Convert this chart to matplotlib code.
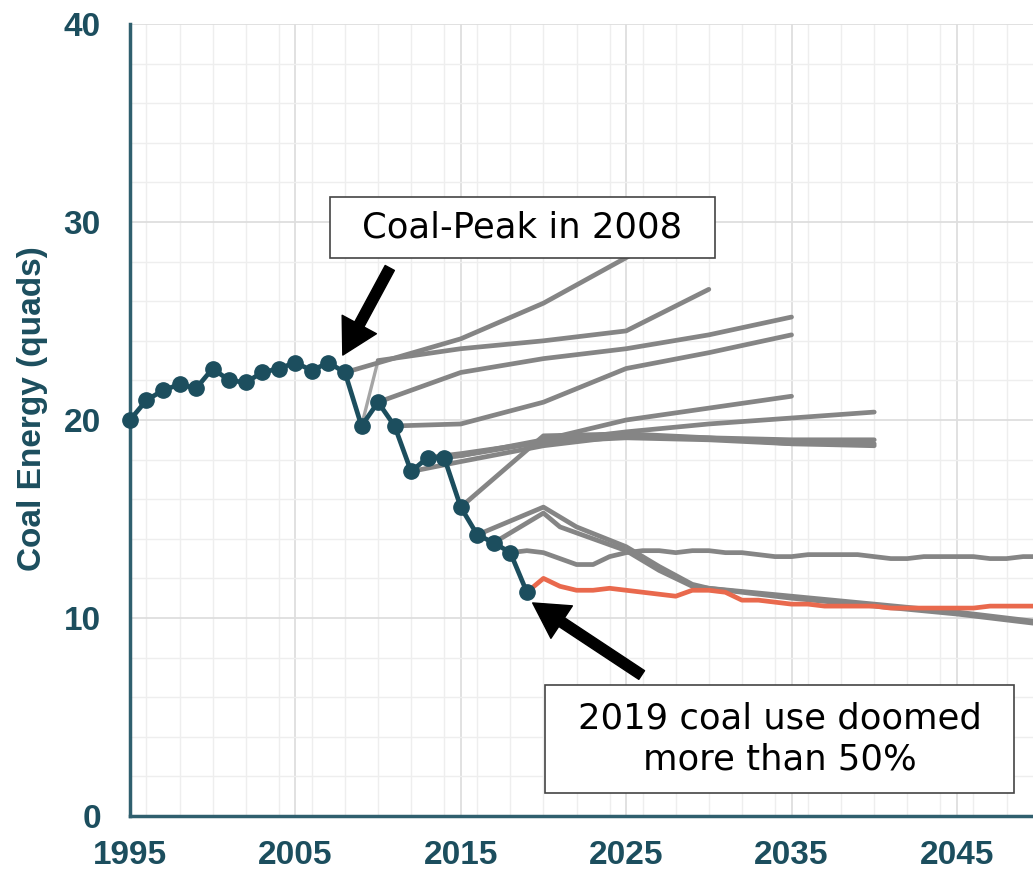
import matplotlib
matplotlib.use('Agg')
import matplotlib.pyplot as plt
from matplotlib.patches import Rectangle
from matplotlib.ticker import MultipleLocator

# historical coal consumption (quads)
hist_years = list(range(1995, 2020))
hist_vals = [20.0, 21.0, 21.5, 21.8, 21.6, 22.6, 22.0, 21.9, 22.4, 22.6,
             22.9, 22.5, 22.9, 22.4, 19.7, 20.9, 19.7, 17.4, 18.1, 18.1,
             15.6, 14.2, 13.8, 13.3, 11.3]

# older outlook projections (grey)
proj_a_years = [2008, 2015, 2020, 2025, 2030]
proj_a_vals = [22.4, 24.1, 25.9, 28.2, 30.5]
proj_b_years = [2010, 2015, 2020, 2025, 2030]
proj_b_vals = [23.0, 23.6, 24.0, 24.5, 26.6]
proj_v_years = [2009, 2010]
proj_v_vals = [19.7, 23.0]
proj_c_years = [2010, 2015, 2020, 2025, 2030, 2035]
proj_c_vals = [20.9, 22.4, 23.1, 23.6, 24.3, 25.2]
proj_d_years = [2011, 2015, 2020, 2025, 2030, 2035]
proj_d_vals = [19.7, 19.8, 20.9, 22.6, 23.4, 24.3]
proj_e_years = [2014, 2015, 2020, 2025, 2030, 2035]
proj_e_vals = [18.1, 18.2, 19.0, 20.0, 20.6, 21.2]
proj_f_years = [2013, 2015, 2020, 2025, 2030, 2035, 2040]
proj_f_vals = [18.1, 18.2, 18.9, 19.4, 19.8, 20.1, 20.4]
proj_g_years = [2012, 2015, 2020, 2025, 2030, 2035, 2040]
proj_g_vals = [17.4, 17.9, 18.7, 19.2, 19.1, 19.0, 19.0]
proj_h_years = [2013, 2015, 2020, 2025, 2030, 2035, 2040]
proj_h_vals = [18.1, 18.3, 18.9, 19.1, 19.0, 18.8, 18.7]
proj_s_years = [2015, 2020, 2025, 2030, 2035, 2040]
proj_s_vals = [15.6, 19.2, 19.3, 19.1, 18.8, 18.8]
proj_p1_years = [2016, 2020, 2022, 2025, 2027, 2029, 2030, 2032, 2035, 2040, 2045, 2050]
proj_p1_vals = [14.2, 15.6, 14.6, 13.6, 12.6, 11.7, 11.5, 11.3, 11.0, 10.6, 10.2, 9.7]
proj_p2_years = [2017, 2020, 2021, 2022, 2025, 2027, 2029, 2030, 2035, 2040, 2045, 2050]
proj_p2_vals = [13.8, 15.3, 14.6, 14.3, 13.4, 12.4, 11.6, 11.5, 11.1, 10.7, 10.3, 9.8]
proj_q_years = list(range(2018, 2051))
proj_q_vals = [13.3, 13.4, 13.3, 13.0, 12.7, 12.7, 13.1, 13.3, 13.4, 13.4, 13.3,
               13.4, 13.4, 13.3, 13.3, 13.2, 13.1, 13.1, 13.2, 13.2, 13.2, 13.2,
               13.1, 13.0, 13.0, 13.1, 13.1, 13.1, 13.1, 13.0, 13.0, 13.1, 13.1]

# latest outlook (red)
latest_years = list(range(2019, 2051))
latest_vals = [11.3, 12.0, 11.6, 11.4, 11.4, 11.5, 11.4, 11.3, 11.2, 11.1, 11.4,
               11.4, 11.3, 10.9, 10.9, 10.8, 10.7, 10.7, 10.6, 10.6, 10.6, 10.6,
               10.5, 10.5, 10.5, 10.5, 10.5, 10.5, 10.6, 10.6, 10.6, 10.6]

xticks = [1995, 2005, 2015, 2025, 2035, 2045]
yticks = [0, 10, 20, 30, 40]

teal = '#1c4e5e'
grey = '#858585'
red = '#e9694d'
narrow = ['Liberation Sans Narrow', 'Liberation Sans', 'DejaVu Sans']

fig = plt.figure(figsize=(10.33, 8.74), dpi=100)
ax = fig.add_axes([0.1258, 0.0664, 0.8742, 0.9061])

grey_lines = [
    (proj_a_years, proj_a_vals), (proj_b_years, proj_b_vals),
    (proj_c_years, proj_c_vals), (proj_d_years, proj_d_vals),
    (proj_e_years, proj_e_vals), (proj_f_years, proj_f_vals),
    (proj_g_years, proj_g_vals), (proj_h_years, proj_h_vals),
    (proj_s_years, proj_s_vals), (proj_p1_years, proj_p1_vals),
    (proj_p2_years, proj_p2_vals), (proj_q_years, proj_q_vals),
]
ax.plot(proj_v_years, proj_v_vals, color='#a5a5a5', lw=2.4, zorder=2)
for yrs, vals in grey_lines:
    ax.plot(yrs, vals, color=grey, lw=3.4, solid_capstyle='round', zorder=3)
ax.plot(latest_years, latest_vals, color=red, lw=3.4, zorder=4)
ax.plot(hist_years, hist_vals, color=teal, lw=3.4, marker='o', ms=11,
        zorder=5, clip_on=False)

ax.set_xlim(1995, 2049.6)
ax.set_ylim(0, 40)
ax.set_xticks(xticks)
ax.set_yticks(yticks)
ax.xaxis.set_minor_locator(MultipleLocator(2))
ax.yaxis.set_minor_locator(MultipleLocator(2))
ax.grid(True, which='major', color='#dedede', lw=1.3, zorder=0)
ax.grid(True, which='minor', color='#eeeeee', lw=1.0, zorder=0)
ax.set_axisbelow(True)

for s in ['top', 'right']:
    ax.spines[s].set_visible(False)
for s in ['left', 'bottom']:
    ax.spines[s].set_color('#2f5f6e')
    ax.spines[s].set_linewidth(2.5)

ax.tick_params(which='both', length=0)
ax.tick_params(axis='y', pad=21)
ax.tick_params(axis='x', pad=17)
for lab in ax.get_xticklabels() + ax.get_yticklabels():
    lab.set_fontfamily(narrow)
    lab.set_fontweight('bold')
    lab.set_fontsize(24)
    lab.set_color(teal)

fig.text(0.031, 0.533, 'Coal Energy (quads)', rotation=90, ha='center', va='center',
         fontsize=24, fontweight='bold', color=teal,
         family=['Liberation Sans', 'DejaVu Sans'])

# annotation boxes
ax.add_patch(Rectangle((2007.08, 28.18), 23.27, 3.08, facecolor='white',
                       edgecolor='#444444', lw=1.2, zorder=8))
ax.text(2018.7, 29.72, 'Coal-Peak in 2008', ha='center', va='center',
        fontsize=25.5, color='black', zorder=9, family='DejaVu Sans')
ax.add_patch(Rectangle((2020.08, 1.16), 28.39, 5.46, facecolor='white',
                       edgecolor='#444444', lw=1.2, zorder=8))
ax.text(2034.27, 3.9, '2019 coal use doomed\nmore than 50%', ha='center',
        va='center', fontsize=25.5, color='black', zorder=9,
        linespacing=1.25, family='DejaVu Sans')

arrow = dict(facecolor='black', edgecolor='black', width=7.5, headwidth=28,
             headlength=25, shrink=0)
ax.annotate('', xy=(2007.87, 23.28), xytext=(2010.71, 27.68),
            arrowprops=arrow, zorder=9)
ax.annotate('', xy=(2019.35, 10.76), xytext=(2025.94, 7.12),
            arrowprops=arrow, zorder=9)

fig.savefig('out.png', dpi=100)
